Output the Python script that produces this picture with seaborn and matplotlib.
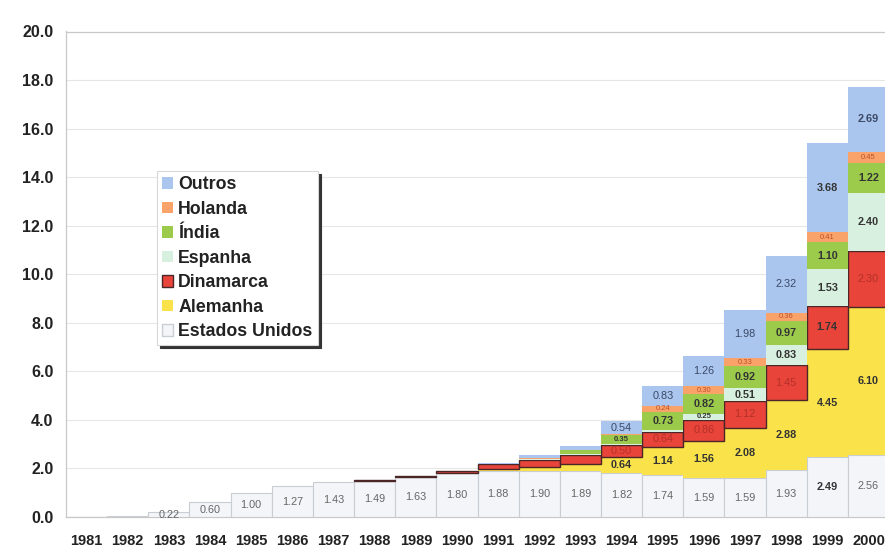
import numpy as np
import pandas as pd
import matplotlib
matplotlib.use("Agg")
import matplotlib.pyplot as plt
from matplotlib.patches import Patch
import seaborn as sns

years = [str(y) for y in range(1981, 2001)]
estados_unidos = [0.01, 0.06, 0.22, 0.60, 1.00, 1.27, 1.43, 1.49, 1.63, 1.80,
                  1.88, 1.90, 1.89, 1.82, 1.74, 1.59, 1.59, 1.93, 2.49, 2.56]
alemanha = [0, 0, 0, 0, 0, 0, 0, 0, 0, 0.01,
            0.10, 0.15, 0.30, 0.64, 1.14, 1.56, 2.08, 2.88, 4.45, 6.10]
dinamarca = [0, 0, 0, 0, 0, 0, 0, 0.03, 0.05, 0.08,
             0.20, 0.30, 0.37, 0.50, 0.64, 0.86, 1.12, 1.45, 1.74, 2.30]
espanha = [0, 0, 0, 0, 0, 0, 0, 0, 0, 0,
           0, 0.02, 0.03, 0.05, 0.08, 0.25, 0.51, 0.83, 1.53, 2.40]
india = [0, 0, 0, 0, 0, 0, 0, 0, 0, 0,
         0, 0.03, 0.15, 0.35, 0.73, 0.82, 0.92, 0.97, 1.10, 1.22]
holanda = [0, 0, 0, 0, 0, 0, 0, 0, 0, 0,
           0.01, 0.02, 0.04, 0.05, 0.24, 0.30, 0.33, 0.36, 0.41, 0.45]
outros = [0, 0, 0, 0, 0, 0, 0, 0, 0, 0.01,
          0.05, 0.15, 0.15, 0.54, 0.83, 1.26, 1.98, 2.32, 3.68, 2.69]

series_names = ["Estados Unidos", "Alemanha", "Dinamarca", "Espanha", "Índia", "Holanda", "Outros"]
series_values = [estados_unidos, alemanha, dinamarca, espanha, india, holanda, outros]
colors = ["#f3f5f8", "#f9e24a", "#e8443a", "#d8f0df", "#9ccb4c", "#f9a36b", "#aac6ee"]
edges = ["#c9ced4", "#f9e24a", "#4a2626", "#d8f0df", "#9ccb4c", "#f9a36b", "#aac6ee"]
label_colors = ["#666666", "#333333", "#b3302a", "#333333", "#333333", "#c0502a", "#3b4866"]
label_weights = ["normal", "bold", "normal", "bold", "bold", "normal", "normal"]

sns.set_style("white")
plt.rcParams['font.family'] = ['Liberation Sans', 'DejaVu Sans']

fig = plt.figure(figsize=(8.85, 5.47), dpi=100)
ax = fig.add_axes([66 / 885, 1 - 517 / 547, 1 - 66 / 885, (517 - 31.5) / 547])

bottom = np.zeros(len(years))
for name, vals, c, ec in zip(series_names, series_values, colors, edges):
    arr = np.array(vals, dtype=float)
    df = pd.DataFrame({"ano": years, "valor": arr})
    lw = 1.0 if ec == "#4a2626" else (0.8 if ec == "#c9ced4" else 0.0)
    sns.barplot(data=df, x="ano", y="valor", order=years, color=c, width=1.0,
                bottom=bottom.copy(), edgecolor=ec, linewidth=lw,
                saturation=1, errorbar=None, ax=ax, zorder=3)
    for patch, v in zip(ax.containers[-1], arr):
        if v <= 0:
            patch.set_visible(False)
    bottom += arr

# value labels
base = np.zeros(len(years))
for si, (name, vals) in enumerate(zip(series_names, series_values)):
    for i, v in enumerate(vals):
        yr = int(years[i])
        show = (v >= 0.2) if si == 0 else (yr >= 1994 and v >= 0.2)
        if show:
            small = (si != 0 and v < 0.46)
            weight = label_weights[si]
            col = label_colors[si]
            if yr == 1999 and si in (0, 2, 6):
                weight = "bold"
                col = "#333333"
            if yr == 2000 and si == 6:
                weight = "bold"
            ypos = base[i] + v / 2
            if si == 0 and yr == 1983:
                ypos = 0.09
            ax.text(i, ypos, f"{v:.2f}", ha="center", va="center",
                    fontsize=5.5 if small else 7.8, color=col, weight=weight, zorder=5)
    base += np.array(vals)

ax.set_xlim(-0.5, 19.4)
ax.set_ylim(0, 20)
ax.set_yticks(np.arange(0, 20.1, 2.0))
ax.set_yticklabels([f"{t:.1f}" for t in np.arange(0, 20.1, 2.0)], fontsize=11.5,
                   weight="bold", color="#222222")
ax.set_xticks(range(len(years)))
ax.set_xticklabels(years, fontsize=10.5, weight="bold", color="#222222")
ax.set_xlabel("")
ax.set_ylabel("")
ax.yaxis.grid(True, color="#e6e6e6", linewidth=0.8, zorder=0)
ax.set_axisbelow(True)
ax.tick_params(axis="y", length=3, color="#bbbbbb", pad=6)
ax.tick_params(axis="x", length=0, pad=12)
for s in ["left", "bottom", "top"]:
    ax.spines[s].set_color("#c8c8c8")
    ax.spines[s].set_linewidth(0.9)
ax.spines["right"].set_visible(False)

handles = []
for name, c, ec in zip(series_names, colors, edges):
    lw = 1.0 if ec in ("#4a2626", "#c9ced4") else 0.0
    handles.append(Patch(facecolor=c, edgecolor=ec, linewidth=lw, label=name))
leg = ax.legend(handles=handles[::-1], loc="upper left",
                bbox_to_anchor=(157 / 885, 1 - 171 / 547), bbox_transform=fig.transFigure,
                borderaxespad=0, prop={"weight": "bold", "size": 12.8},
                frameon=True, fancybox=False, edgecolor="#d8d8d8", framealpha=1,
                shadow={"color": "#333333", "alpha": 1.0},
                handlelength=0.6, handleheight=0.6, handletextpad=0.3,
                labelspacing=0.42, borderpad=0.3)
leg.get_frame().set_linewidth(0.8)
for t in leg.get_texts():
    t.set_color("#222222")

fig.savefig("out.png", dpi=100)
